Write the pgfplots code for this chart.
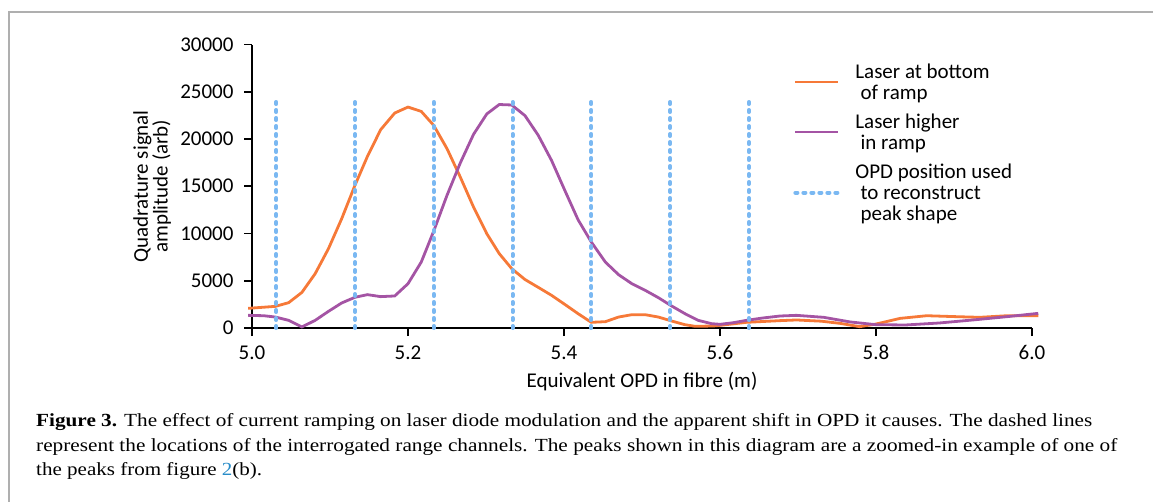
\documentclass[border=0pt]{standalone}
\usepackage{pgfplots}
\pgfplotsset{compat=1.18}
\usepackage{fontspec}
\usepackage{graphicx}
\setmainfont{Carlito}
\newfontfamily\capfont{Liberation Serif}
\definecolor{laserorange}{RGB}{246,121,56}
\definecolor{laserpurple}{RGB}{164,84,164}
\definecolor{opdblue}{RGB}{122,184,242}
\definecolor{framegray}{RGB}{175,175,175}
\definecolor{linkblue}{RGB}{40,140,200}
\newcommand{\chartfont}{\fontsize{21bp}{21bp}\selectfont}
\newcommand{\capsize}{\capfont\fontsize{18.5bp}{20bp}\selectfont}

\begin{document}
\begin{tikzpicture}
\path[use as bounding box] (0,0) rectangle (1153bp,-502bp);
\draw[framegray, line width=1.2bp] (9bp,-502bp) -- (9bp,-12bp) -- (1153bp,-12bp);
\begin{axis}[
  at={(252bp,-328bp)}, anchor=south west,
  scale only axis, width=780bp, height=283.5bp,
  xmin=5, xmax=6, ymin=0, ymax=30000,
  clip=false,
  axis lines*=left,
  axis line style={black, line width=1.8bp},
  tick align=outside,
  major tick length=8bp,
  tick style={black, line width=1.8bp},
  xtick={5,5.2,5.4,5.6,5.8,6},
  ytick={0,5000,10000,15000,20000,25000,30000},
  scaled y ticks=false,
  /pgf/number format/assume math mode=true,
  yticklabel style={xshift=-7bp, /pgf/number format/1000 sep={}},
  xticklabel style={yshift=-6bp, /pgf/number format/.cd, fixed, fixed zerofill, precision=1},
  tick label style={font=\chartfont},
  xlabel={Equivalent OPD in fibre (m)},
  ylabel={Quadrature signal\\amplitude (arb)},
  every axis x label/.style={at={(axis description cs:0.5,-0.19)}, anchor=center, font=\chartfont},
  every axis y label/.style={at={(axis description cs:-0.128,0.5)}, rotate=90, anchor=center,
    align=center, font=\fontsize{21bp}{18.5bp}\selectfont},
  legend style={at={(axis description cs:0.69,0.948)}, anchor=north west,
    draw=none, fill=none, font=\chartfont, row sep=9bp, column sep=13bp,
    nodes={align=left, inner sep=2bp}},
  legend cell align=left,
  legend image code/.code={\draw[#1] (0bp,0bp) -- (43bp,0bp);},
]
%% laser at bottom of ramp
\addplot[laserorange, line width=2.8bp] coordinates {
(4.995,2080) (5.015,2200) (5.030,2290) (5.047,2680) (5.064,3770) (5.081,5750)
(5.098,8390) (5.115,11570) (5.132,15100) (5.148,18160) (5.165,20990) (5.183,22750)
(5.200,23380) (5.217,22920) (5.233,21440) (5.250,18980) (5.267,15980) (5.284,12800)
(5.301,9980) (5.317,7870) (5.333,6280) (5.350,5130) (5.367,4300) (5.384,3460)
(5.401,2500) (5.418,1520) (5.435,600) (5.453,670) (5.470,1160) (5.487,1410)
(5.504,1410) (5.521,1160) (5.538,740) (5.555,350) (5.568,180) (5.591,210)
(5.600,280) (5.634,600) (5.677,780) (5.698,850) (5.730,720) (5.754,490)
(5.779,140) (5.800,420) (5.831,1020) (5.865,1300) (5.903,1200) (5.933,1130)
(5.968,1300) (6.008,1300)
};
%% laser higher in ramp
\addplot[laserpurple, line width=2.8bp] coordinates {
(4.995,1340) (5.015,1300) (5.030,1160) (5.047,810) (5.064,110) (5.081,810)
(5.098,1760) (5.115,2650) (5.132,3250) (5.148,3530) (5.165,3320) (5.183,3390)
(5.200,4690) (5.217,6980) (5.233,10260) (5.250,14040) (5.267,17460) (5.284,20490)
(5.301,22650) (5.317,23650) (5.333,23600) (5.350,22470) (5.367,20390) (5.384,17740)
(5.401,14570) (5.418,11460) (5.435,9100) (5.453,6980) (5.470,5640) (5.487,4690)
(5.504,3990) (5.521,3210) (5.538,2330) (5.555,1520) (5.572,810) (5.589,460)
(5.600,390) (5.617,560) (5.634,810) (5.655,1060) (5.677,1270) (5.698,1340)
(5.733,1130) (5.767,640) (5.800,350) (5.838,320) (5.881,530) (5.924,850)
(5.968,1200) (6.008,1550)
};
%% interrogated range channels
\addplot[ycomb, opdblue, line width=4bp, line cap=round,
  dash pattern=on 2bp off 6bp, mark=none] coordinates {
(5.031,24000) (5.132,24000) (5.233,24000) (5.334,24000) (5.435,24000) (5.536,24000) (5.637,24000)
};
\legend{Laser at bottom\\\hspace{0.25em}of ramp, Laser higher\\\hspace{0.25em}in ramp,
  OPD position used\\\hspace{0.25em}to reconstruct\\\hspace{0.25em}peak shape}
\end{axis}
\node[anchor=base west, inner sep=0pt] at (36bp,-426.7bp) {\resizebox{1056bp}{\height}{\capsize\textbf{Figure 3.} The effect of current ramping on laser diode modulation and the apparent shift in OPD it causes. The dashed lines}};
\node[anchor=base west, inner sep=0pt] at (36bp,-451bp) {\resizebox{1081bp}{\height}{\capsize represent the locations of the interrogated range channels. The peaks shown in this diagram are a zoomed-in example of one of}};
\node[anchor=base west, inner sep=0pt] at (36bp,-475.7bp) {\resizebox{226bp}{\height}{\capsize the peaks from figure \textcolor{linkblue}{2}(b).}};
\end{tikzpicture}
\end{document}
